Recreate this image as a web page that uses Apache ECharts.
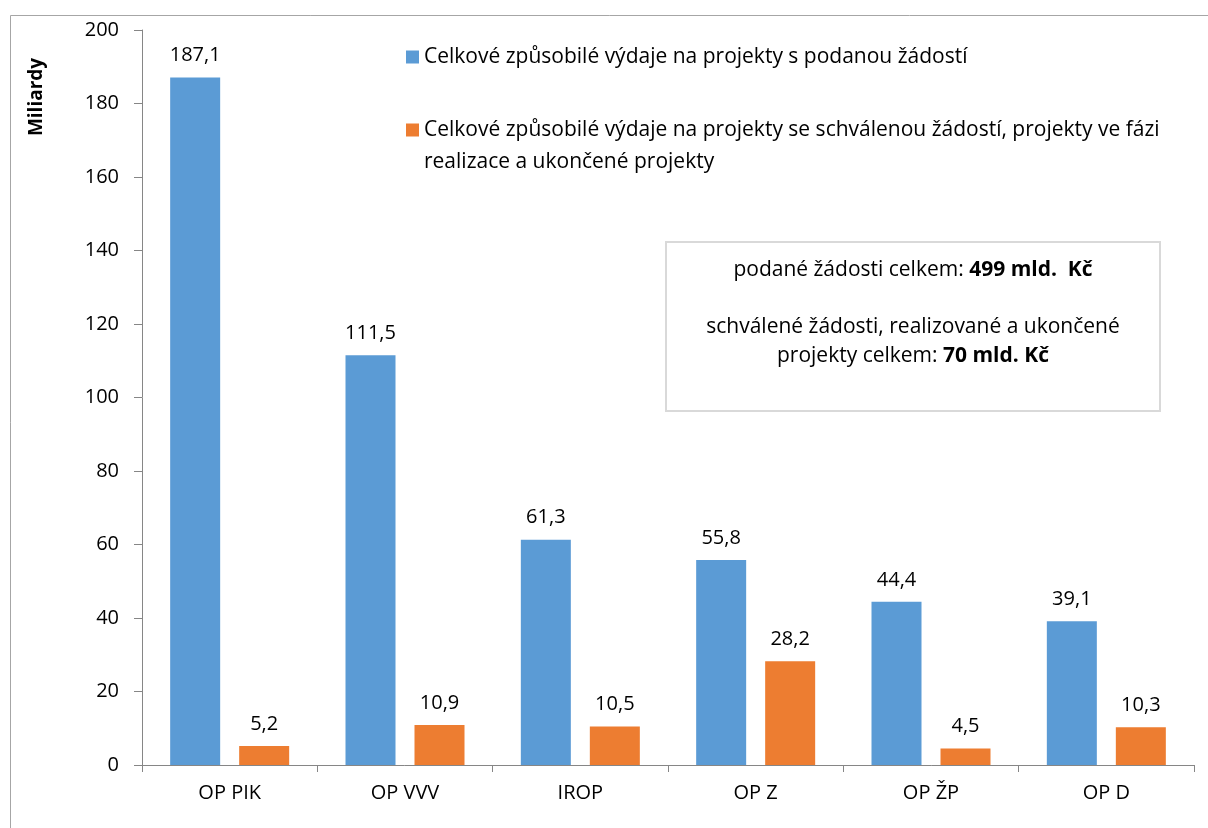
<!DOCTYPE html>
<html>
<head>
<meta charset="utf-8">
<script src="https://cdn.jsdelivr.net/npm/echarts@6/dist/echarts.min.js"></script>
<style>
  html, body { margin: 0; padding: 0; background: #fff; }
  #main { width: 1208px; height: 828px; }
</style>
</head>
<body>
<div id="main"></div>
<script>
var categories = ['OP PIK', 'OP VVV', 'IROP', 'OP Z', 'OP ŽP', 'OP D']
var submitted = [187.1, 111.5, 61.3, 55.8, 44.4, 39.1]
var approved = [5.2, 10.9, 10.5, 28.2, 4.5, 10.3]
var seriesNames = [
  'Celkové způsobilé výdaje na projekty s podanou žádostí',
  'Celkové způsobilé výdaje na projekty se schválenou žádostí, projekty ve fázi realizace a ukončené projekty'
]
var yTicks = [0, 20, 40, 60, 80, 100, 120, 140, 160, 180, 200]

var font = 'Open Sans'
var fs = 20      // axis + data labels
var fsText = 21  // legend + note box
var myChart = echarts.init(document.getElementById('main'))

function fmt(p) {
  return p.value.toFixed(1).replace('.', ',')
}

var option = {
  backgroundColor: '#fff',
  textStyle: { fontFamily: font },
  animation: false,
  legend: [
    {
      data: [seriesNames[0]],
      left: 406,
      top: 45,
      padding: 0,
      itemWidth: 13,
      itemHeight: 13,
      icon: 'rect',
      textStyle: { fontFamily: font, fontSize: fsText, color: '#000', lineHeight: 24 }
    },
    {
      // leading blank line keeps the marker level with the first text line
      data: [seriesNames[1]],
      left: 406,
      top: 82,
      padding: 0,
      itemWidth: 13,
      itemHeight: 13,
      icon: 'rect',
      formatter: function (name) {
        return '\n' + name.replace('fázi ', 'fázi\n')
      },
      textStyle: { fontFamily: font, fontSize: fsText, color: '#000', lineHeight: 32 }
    }
  ],
  grid: {
    left: 142,
    right: 14,
    top: 30,
    bottom: 63
  },
  xAxis: {
    type: 'category',
    data: categories,
    axisLine: { lineStyle: { color: '#868686', width: 1 } },
    axisTick: { show: true, length: 7, lineStyle: { color: '#868686' } },
    axisLabel: { fontFamily: font, fontSize: fs, color: '#000', margin: 18 }
  },
  yAxis: {
    type: 'value',
    min: yTicks[0],
    max: yTicks[yTicks.length - 1],
    interval: 20,
    axisLine: { show: true, lineStyle: { color: '#868686' } },
    axisTick: { show: true, length: 8, lineStyle: { color: '#868686' } },
    axisLabel: { fontFamily: font, fontSize: fs, color: '#000', margin: 23 },
    splitLine: { show: false }
  },
  graphic: [
    {
      type: 'rect',
      silent: true,
      shape: { x: 10.5, y: 15.5, width: 1400, height: 1000 },
      style: { fill: 'none', stroke: '#a6a6a6', lineWidth: 1 }
    },
    {
      type: 'text',
      x: 37,
      y: 97,
      rotation: Math.PI / 2,
      style: {
        text: 'Miliardy',
        font: 'bold 19px ' + font,
        fill: '#000',
        align: 'center',
        verticalAlign: 'middle'
      }
    },
    {
      type: 'rect',
      silent: true,
      shape: { x: 666, y: 242, width: 494, height: 169 },
      style: { fill: '#fff', stroke: '#d9d9d9', lineWidth: 2 }
    },
    {
      type: 'text',
      x: 913,
      y: 270,
      style: {
        text: 'podané žádosti celkem: {b|499 mld.  Kč}',
        font: fsText + 'px ' + font,
        fill: '#000',
        align: 'center',
        verticalAlign: 'middle',
        rich: { b: { fontFamily: font, fontSize: fsText, fontWeight: 'bold', fill: '#000' } }
      }
    },
    {
      type: 'text',
      x: 913,
      y: 327,
      style: {
        text: 'schválené žádosti, realizované a ukončené',
        font: fsText + 'px ' + font,
        fill: '#000',
        align: 'center',
        verticalAlign: 'middle'
      }
    },
    {
      type: 'text',
      x: 913,
      y: 356,
      style: {
        text: 'projekty celkem: {b|70 mld. Kč}',
        font: fsText + 'px ' + font,
        fill: '#000',
        align: 'center',
        verticalAlign: 'middle',
        rich: { b: { fontFamily: font, fontSize: fsText, fontWeight: 'bold', fill: '#000' } }
      }
    }
  ],
  series: [
    {
      name: seriesNames[0],
      type: 'bar',
      data: submitted,
      barWidth: 50,
      barGap: '38%',
      itemStyle: { color: '#5b9bd5' },
      label: {
        show: true,
        position: 'top',
        distance: 12,
        fontFamily: font,
        fontSize: fs,
        color: '#000',
        formatter: fmt
      }
    },
    {
      name: seriesNames[1],
      type: 'bar',
      data: approved,
      barWidth: 50,
      barGap: '38%',
      itemStyle: { color: '#ed7d31' },
      label: {
        show: true,
        position: 'top',
        distance: 12,
        fontFamily: font,
        fontSize: fs,
        color: '#000',
        formatter: fmt
      }
    }
  ]
}

myChart.setOption(option)
</script>
</body>
</html>
